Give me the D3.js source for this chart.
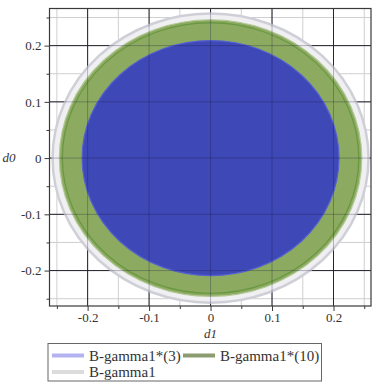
<!DOCTYPE html>
<html>
<head>
<meta charset="utf-8">
<script src="https://cdn.jsdelivr.net/npm/d3@7"></script>
<style>
  body { margin: 0; background: #fff; }
</style>
</head>
<body>
<div id="chart"></div>
<script>
// data (regions are discs centred on the origin, radius)
var seriesNames = ["B-gamma1", "B-gamma1*(10)", "B-gamma1*(3)"];
var seriesRadius = [0.257, 0.246, 0.209];
var legendOrder = ["B-gamma1*(3)", "B-gamma1*(10)", "B-gamma1"];
var majorTicks = [-0.2, -0.1, 0, 0.1, 0.2];
var minorTicks = [-0.25, -0.15, -0.05, 0.05, 0.15, 0.25];

// styles
var serif = "'Liberation Serif'";
var fillColor = {"B-gamma1": "#f0f0f3", "B-gamma1*(10)": "#8cab60", "B-gamma1*(3)": "#3e48b6"};
var edgeColor = {"B-gamma1": "#cfcfd8", "B-gamma1*(10)": "#b4c898", "B-gamma1*(3)": "#5560d2"};
var legendColor = {"B-gamma1*(3)": "#b4b2f0", "B-gamma1*(10)": "#8c9c70", "B-gamma1": "#dcdcdc"};

var W = 376, H = 383;
var svg = d3.select("#chart").append("svg").attr("width", W).attr("height", H);

var x = d3.scaleLinear().domain([-0.262, 0.261]).range([49.5, 371]);
var y = d3.scaleLinear().domain([-0.263, 0.266]).range([306, 8.5]);

var plot = svg.append("g");

// grid
function grid(vals, color, width, opacity) {
  plot.append("g").selectAll("line.v").data(vals).enter().append("line")
    .attr("x1", function(d) { return x(d); }).attr("x2", function(d) { return x(d); })
    .attr("y1", y.range()[0]).attr("y2", y.range()[1])
    .attr("stroke", color).attr("stroke-width", width).attr("opacity", opacity);
  plot.append("g").selectAll("line.h").data(vals).enter().append("line")
    .attr("y1", function(d) { return y(d); }).attr("y2", function(d) { return y(d); })
    .attr("x1", x.range()[0]).attr("x2", x.range()[1])
    .attr("stroke", color).attr("stroke-width", width).attr("opacity", opacity);
}
grid(minorTicks, "#cfcfcf", 1, 1);
grid(majorTicks, "#2a2a2a", 1, 1);

// regions
var regions = seriesNames.map(function(n, i) { return {name: n, r: seriesRadius[i]}; });
plot.append("g").selectAll("ellipse").data(regions).enter().append("ellipse")
  .attr("cx", x(0)).attr("cy", y(0))
  .attr("rx", function(d) { return x(d.r) - x(0); })
  .attr("ry", function(d) { return y(0) - y(d.r); })
  .attr("fill", function(d) { return fillColor[d.name]; })
  .attr("stroke", function(d) { return edgeColor[d.name]; })
  .attr("stroke-width", function(d) { return d.name === "B-gamma1" ? 2.5 : 1.2; });

// darker boundary line just inside the green region
var g10 = regions[1];
plot.append("ellipse")
  .attr("cx", x(0)).attr("cy", y(0))
  .attr("rx", x(g10.r) - x(0) - 3)
  .attr("ry", y(0) - y(g10.r) - 3)
  .attr("fill", "none").attr("stroke", "#6a9842").attr("stroke-width", 1.3);

// grid showing faintly through the fills
grid(majorTicks, "#1a1a40", 1, 0.3);

// frame
svg.append("rect")
  .attr("x", x.range()[0]).attr("y", y.range()[1])
  .attr("width", x.range()[1] - x.range()[0]).attr("height", y.range()[0] - y.range()[1])
  .attr("fill", "none").attr("stroke", "#3a3a3a").attr("stroke-width", 1.2);

// axes
var fmt = function(d) { return d === 0 ? "0" : d3.format(".1f")(d).replace("\u2212", "-"); };
svg.append("g").attr("transform", "translate(0," + y.range()[0] + ")")
  .call(d3.axisBottom(x).tickValues(majorTicks).tickSize(5).tickPadding(2).tickFormat(fmt));
svg.append("g").attr("transform", "translate(0," + y.range()[0] + ")")
  .call(d3.axisBottom(x).tickValues(minorTicks).tickSize(3).tickFormat(""));
svg.append("g").attr("transform", "translate(" + x.range()[0] + ",0)")
  .call(d3.axisLeft(y).tickValues(majorTicks).tickSize(5).tickPadding(3).tickFormat(fmt));
svg.append("g").attr("transform", "translate(" + x.range()[0] + ",0)")
  .call(d3.axisLeft(y).tickValues(minorTicks).tickSize(3).tickFormat(""));

svg.selectAll(".domain").remove();
svg.selectAll(".tick line").attr("stroke", "#3a3a3a");
svg.selectAll(".tick text")
  .attr("font-family", serif).attr("font-size", 13).attr("fill", "#333");

svg.append("text").attr("x", x(0)).attr("y", 338).attr("text-anchor", "middle")
  .attr("font-family", serif).attr("font-size", 13).attr("font-style", "italic")
  .attr("fill", "#333").text("d1");
svg.append("text").attr("x", 9).attr("y", y(0) + 4).attr("text-anchor", "middle")
  .attr("font-family", serif).attr("font-size", 13).attr("font-style", "italic")
  .attr("fill", "#333").text("d0");

// legend
var legend = svg.append("g");
legend.append("rect").attr("x", 48).attr("y", 343.5).attr("width", 273.5).attr("height", 37.5)
  .attr("fill", "#fff").attr("stroke", "#666").attr("stroke-width", 1);
var legendPos = [[52, 355.5], [183, 355.5], [52, 372]];
var items = legend.selectAll("g.legend-item").data(legendOrder).enter().append("g")
  .attr("class", "legend-item")
  .attr("transform", function(d, i) { return "translate(" + legendPos[i][0] + "," + legendPos[i][1] + ")"; });
items.append("line").attr("x1", 0).attr("x2", 32).attr("y1", 0).attr("y2", 0)
  .attr("stroke", function(d) { return legendColor[d]; }).attr("stroke-width", 4);
items.append("text").attr("x", 37).attr("y", 5)
  .attr("font-family", serif).attr("font-size", 15).attr("fill", "#333")
  .text(function(d) { return d; });
</script>
</body>
</html>
